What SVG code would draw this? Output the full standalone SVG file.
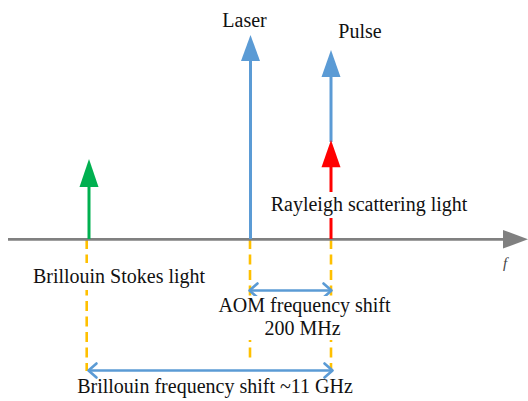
<svg xmlns="http://www.w3.org/2000/svg" width="528" height="401" viewBox="0 0 528 401">
<defs>
<style>
.t{font-family:"Liberation Serif","Times New Roman",serif;font-size:20px;fill:#111;text-anchor:middle}
.bg{fill:#fff}
.guide{stroke:#ffc000;stroke-width:2.6;stroke-dasharray:10 5.5;fill:none}
.shift{stroke:#5b9bd5;stroke-width:2.6;fill:none;marker-start:url(#chev);marker-end:url(#chev)}
.blue{stroke:#5b9bd5;stroke-width:3}
.red{stroke:#ff0000;stroke-width:3}
.green{stroke:#00b050;stroke-width:3}
</style>
<marker id="chev" viewBox="-10 -10 20 20" markerWidth="20" markerHeight="20" markerUnits="userSpaceOnUse" orient="auto-start-reverse" refX="0" refY="0">
<path d="M-8,-7 L0,0 L-8,7" fill="none" stroke="#5b9bd5" stroke-width="2.6" stroke-linecap="round" stroke-linejoin="round"/>
</marker>
</defs>
<rect width="528" height="401" fill="#fff"/>
<g id="connectors">
<line class="guide" x1="86.7" y1="239" x2="86.7" y2="371"/>
<line class="guide" x1="250" y1="239" x2="250" y2="363"/>
<line class="guide" x1="331" y1="239" x2="331" y2="371"/>
<line class="shift" x1="249.5" y1="290.5" x2="331.5" y2="290.5"/>
<line class="shift" x1="88.5" y1="370.5" x2="332.5" y2="370.5"/>
</g>
<g id="axis">
<line x1="8" y1="239.3" x2="505" y2="239.3" stroke="#808080" stroke-width="2.8"/>
<polygon points="503,230 528,239.3 503,248.5" fill="#808080"/>
<text x="505" y="268" style="font-family:'Liberation Serif','Times New Roman',serif;font-size:15px;font-style:italic;fill:#444;text-anchor:middle">f</text>
</g>
<g id="laser">
<line class="blue" x1="250.5" y1="60" x2="250.5" y2="239"/>
<polygon points="250.5,35 260,61 241,61" fill="#5b9bd5"/>
<text class="t" x="244.5" y="27">Laser</text>
</g>
<g id="pulse">
<line class="blue" x1="331" y1="76" x2="331" y2="142"/>
<polygon points="331,50 340.5,77 321.5,77" fill="#5b9bd5"/>
<text class="t" x="360" y="38">Pulse</text>
</g>
<g id="rayleigh">
<line class="red" x1="331" y1="166" x2="331" y2="239"/>
<polygon points="331,140 340.5,167.3 321.5,167.3" fill="#ff0000"/>
<rect class="bg" x="267" y="192" width="204" height="26"/>
<text class="t" x="369" y="211">Rayleigh scattering light</text>
</g>
<g id="stokes">
<line class="green" x1="89" y1="186" x2="89" y2="239"/>
<polygon points="89,159 98.5,187 79.5,187" fill="#00b050"/>
<rect class="bg" x="30" y="263" width="178" height="27"/>
<text class="t" x="119" y="283">Brillouin Stokes light</text>
</g>
<g id="aom">
<rect class="bg" x="215" y="296" width="179" height="44"/>
<text class="t" x="304.5" y="312">AOM frequency shift</text>
<text class="t" x="302.5" y="334.5">200 MHz</text>
</g>
<g id="brillouin-shift">
<text class="t" x="215" y="393">Brillouin frequency shift ~11 GHz</text>
</g>
</svg>
